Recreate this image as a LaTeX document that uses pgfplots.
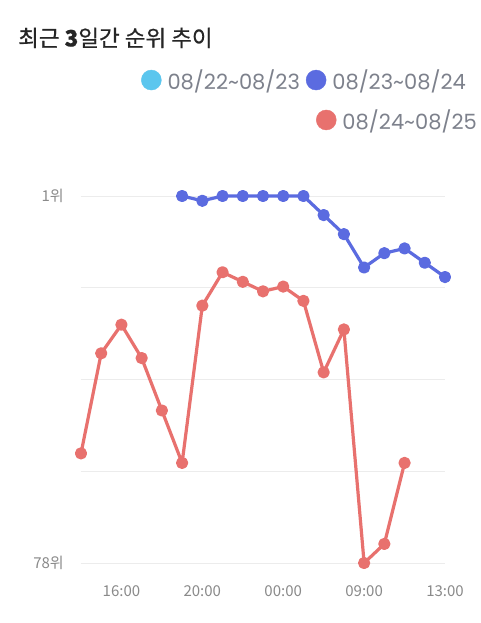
\documentclass[border=0pt]{standalone}
\usepackage{fontspec}
\setmainfont{Noto Sans CJK KR}
\newfontfamily\legfont{Poppins}
\newfontfamily\titlefont{Noto Sans CJK KR}[FakeBold=0.6]
\usepackage{pgfplots}
\pgfplotsset{compat=1.18}
\definecolor{cC}{HTML}{5BC6EE}
\definecolor{cB}{HTML}{5B6BE0}
\definecolor{cR}{HTML}{E8716E}
\definecolor{gridc}{HTML}{ECECEC}
\definecolor{lab}{HTML}{8A8A8A}
\definecolor{leg}{HTML}{7D818C}
\begin{document}
\begin{tikzpicture}[x=1pt,y=1pt]
\useasboundingbox (-81,-60) rectangle (399,563);
\fill[white] (-81,-60) rectangle (399,563);
\node[anchor=west, inner sep=0pt, font=\fontsize{22.5}{22.5}\titlefont, text=black!85] at (-63,525) {최근 \textbf{3}일간 순위 추이};
\begin{axis}[at={(0,0)}, anchor=south west, scale only axis, width=364pt, height=367pt,
  xmin=0, xmax=18, ymin=1, ymax=78, y dir=reverse, clip=false,
  axis line style={draw=none}, major tick style={draw=none},
  ymajorgrids, grid style={gridc, line width=1pt},
  ytick={1,20.25,39.5,58.75,78}, yticklabels={1위,,,,78위},
  xtick={2,6,10,14,18}, xticklabels={16:00,20:00,00:00,09:00,13:00},
  /pgf/number format/assume math mode=true,
  ticklabel style={font=\fontsize{15}{15}\selectfont, text=lab},
  xticklabel style={inner sep=0pt, anchor=center, yshift=-28pt},
  yticklabel style={inner sep=0pt, anchor=east, xshift=-17pt},
  legend style={draw=none, fill=none, at={(1.0742,1.316)}, anchor=east, inner sep=0pt,
    font=\fontsize{21}{21}\legfont, text=leg, nodes={inner xsep=6pt},
    /tikz/every even column/.append style={column sep=0pt}},
  legend columns=-1, legend cell align=left]
\addplot[cB, line width=3.2pt, line join=round, mark=*, mark size=4.5pt, forget plot] coordinates {
(5,1)(6,2)(7,1)(8,1)(9,1)(10,1)(11,1)(12,5)(13,9)(14,16)(15,13)(16,12)(17,15)(18,18)};
\addplot[cR, line width=3.2pt, line join=round, mark=*, mark size=4.5pt, forget plot] coordinates {
(0,55)(1,34)(2,28)(3,35)(4,46)(5,57)(6,24)(7,17)(8,19)(9,21)(10,20)(11,23)(12,38)(13,29)(14,78)(15,74)(16,57)};
\addlegendimage{legend image code/.code={\fill[cC] (10pt,0pt) circle (10pt);}}
\addlegendentry{08/22\textasciitilde 08/23}
\addlegendimage{legend image code/.code={\fill[cB] (10pt,0pt) circle (10pt);}}
\addlegendentry{08/23\textasciitilde 08/24}
\end{axis}
\begin{axis}[at={(0,0)}, anchor=south west, scale only axis, width=364pt, height=367pt,
  hide axis, xmin=0, xmax=1, ymin=0, ymax=1,
  legend style={draw=none, fill=none, at={(1.1044,1.2071)}, anchor=east, inner sep=0pt,
    font=\fontsize{21}{21}\legfont, text=leg, nodes={inner xsep=6pt}}, legend cell align=left]
\addlegendimage{legend image code/.code={\fill[cR] (10pt,0pt) circle (10pt);}}
\addlegendentry{08/24\textasciitilde 08/25}
\end{axis}
\end{tikzpicture}
\end{document}
